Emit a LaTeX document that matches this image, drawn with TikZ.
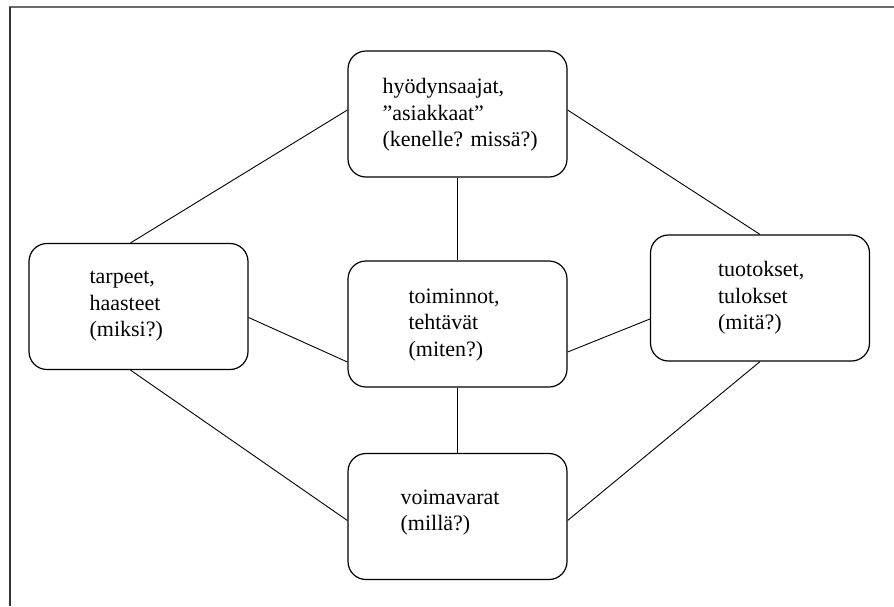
\documentclass[tikz,border=0pt]{standalone}
\usepackage{fontspec}
\setmainfont{Liberation Serif}
\usetikzlibrary{calc}
\tikzset{
  box/.style={draw=black, line width=1.2pt, rounded corners=18pt,
    minimum width=219pt, minimum height=126pt, inner sep=0pt},
  lbl/.style={anchor=west, align=left, inner sep=0pt,
    font=\fontsize{22}{26.5}\selectfont},
  link/.style={draw=black, line width=0.9pt},
  frameline/.style={line width=2pt}
}
\begin{document}
\begin{tikzpicture}[x=1pt,y=-1pt]
  \useasboundingbox (0,0) rectangle (894,606);
  % outer frame (top and left edges)
  \draw[frameline, draw=black!58] (9,7) -- (894,7);
  \draw[frameline, draw=black!80] (9.5,7) -- (9.5,606);

  % boxes
  \node[box] (T) at (457.5,114) {};
  \node[box] (L) at (138.5,306.5) {};
  \node[box] (C) at (457.5,324) {};
  \node[box] (R) at (760,298) {};
  \node[box] (B) at (457.5,516.5) {};

  % box texts
  \node[lbl] (Tt) at ($(T.west)+(35,1)$) {hyödynsaajat,\\”asiakkaat”\\(kenelle? missä?)};
  \node[lbl] (Lt) at ($(L.west)+(61,0)$) {tarpeet,\\haasteet\\(miksi?)};
  \node[lbl] (Ct) at ($(C.west)+(61,1)$) {toiminnot,\\tehtävät\\(miten?)};
  \node[lbl] (Rt) at ($(R.west)+(68,0)$) {tuotokset,\\tulokset\\(mitä?)};
  \node[lbl] (Bt) at ($(B.west)+(53,-4)$) {voimavarat\\(millä?)};

  % connectors
  \draw[link] ($(L.north)+(-8,0)$) -- ($(T.west)+(0,-4)$);
  \draw[link] ($(T.east)+(0,-4)$) -- (R.north);
  \draw[link] (T.south) -- (C.north);
  \draw[link] (C.south) -- (B.north);
  \draw[link] ($(L.east)+(0,11)$) -- ($(C.west)+(0,38)$);
  \draw[link] ($(C.east)+(0,28)$) -- ($(R.west)+(0,21)$);
  \draw[link] ($(L.south)+(-8,0)$) -- ($(B.west)+(0,4)$);
  \draw[link] ($(B.east)+(0,4)$) -- (R.south);
\end{tikzpicture}
\end{document}
